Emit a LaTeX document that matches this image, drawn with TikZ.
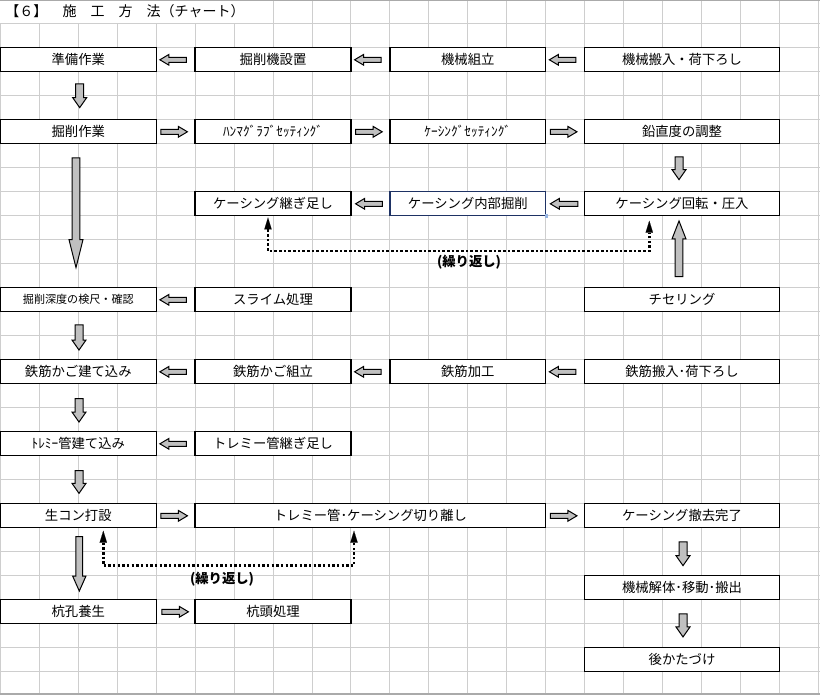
\documentclass[tikz,border=0pt]{standalone}
\usepackage{fontspec}
\setmainfont{Noto Sans CJK JP}
\usetikzlibrary{calc,arrows.meta}
\definecolor{gridc}{RGB}{206,206,206}
\definecolor{edgec}{RGB}{170,170,170}
\definecolor{arrowfill}{RGB}{192,192,192}
\definecolor{selblue}{RGB}{30,50,100}
\definecolor{handleblue}{RGB}{150,180,225}
\newcommand\barrow[5]{%
  \coordinate (ba-t) at #1;
  \coordinate (ba-p) at #2;
  \coordinate (ba-h) at ($(ba-p)!#5!(ba-t)$);
  \draw[blockarrow] ($(ba-t)!#3!90:(ba-p)$) -- ($(ba-h)!#3!90:(ba-p)$) -- ($(ba-h)!#4!90:(ba-p)$) -- (ba-p) -- ($(ba-h)!#4!-90:(ba-p)$) -- ($(ba-h)!#3!-90:(ba-p)$) -- ($(ba-t)!#3!-90:(ba-p)$) -- cycle;}
\newcommand\harrow[2]{\barrow{#1}{#2}{1.9pt}{4pt}{6.75pt}}
\newcommand\varrow[2]{\barrow{#1}{#2}{3pt}{5.25pt}{7.5pt}}
\tikzset{
  cell/.style={draw=black, line width=1pt, fill=white, minimum height=18pt, inner sep=0pt, anchor=center, font=\fontsize{10}{12}\selectfont},
  w4/.style={minimum width=116.85pt},
  w5/.style={minimum width=146.06pt},
  w9/.style={minimum width=262.9pt},
  gridline/.style={draw=gridc, line width=0.75pt},
  blockarrow/.style={fill=arrowfill, draw=black, line width=0.75pt, line join=miter},
  dotloop/.style={line width=1.9pt, dash pattern=on 1.9pt off 1.6pt,
    {Triangle[length=9pt,width=5.5pt,line width=0.1pt]}-{Triangle[length=9pt,width=5.5pt,line width=0.1pt]}},
  replabel/.style={font=\bfseries\fontsize{10}{12}\selectfont, inner sep=0pt},
}
\begin{document}
\begin{tikzpicture}[x=0.75pt,y=-0.75pt]
\useasboundingbox (0,0) rectangle (820,696);
\fill[white] (0,0) rectangle (820,696);
% grid
\foreach \k in {0,...,6} {\draw[gridline] ({0.4+38.95*\k},23.3) -- ({0.4+38.95*\k},693);}
\foreach \k in {7,...,21} {\draw[gridline] ({0.4+38.95*\k},0) -- ({0.4+38.95*\k},693);}
\foreach \j in {0,...,27} {\draw[gridline] (0,{23.3+24*\j}) -- (820,{23.3+24*\j});}
\draw[draw=edgec, line width=1.2pt] (0,0.6) -- (820,0.6);
\draw[draw=edgec, line width=1.5pt] (0,694) -- (820,694);
% title
\node[anchor=west, inner sep=0pt, font=\fontsize{10.5}{12}\selectfont] (title) at (5,11.5) {【６】\hspace{1.1em}施\hspace{1em}工\hspace{1em}方\hspace{1em}法（チャート）};
% boxes
\node[cell,w4] (n11) at (78.3,59.3) {準備作業};
\node[cell,w4] (n12) at (273.0,59.3) {掘削機設置};
\node[cell,w4] (n13) at (467.8,59.3) {機械組立};
\node[cell,w5] (n14) at (682.0,59.3) {機械搬入・荷下ろし};
\node[cell,w4] (n21) at (78.3,131.3) {掘削作業};
\node[cell,w4] (n22) at (273.0,131.3) {ﾊﾝﾏｸﾞﾗﾌﾞｾｯﾃｨﾝｸﾞ};
\node[cell,w4] (n23) at (467.8,131.3) {ｹｰｼﾝｸﾞｾｯﾃｨﾝｸﾞ};
\node[cell,w5] (n24) at (682.0,131.3) {鉛直度の調整};
\node[cell,w4] (n32) at (273.0,203.3) {ケーシング継ぎ足し};
\node[cell,w4,draw=selblue,line width=0.9pt] (n33) at (467.8,203.3) {ケーシング内部掘削};
\fill[handleblue] ($(n33.south east)+(-1.5,-1.5)$) rectangle ($(n33.south east)+(2,2)$);
\node[cell,w5] (n34) at (682.0,203.3) {ケーシング回転・圧入};
\node[cell,w4,font=\fontsize{8.3}{10}\selectfont] (n41) at (78.3,299.3) {掘削深度の検尺・確認};
\node[cell,w4] (n42) at (273.0,299.3) {スライム処理};
\node[cell,w5] (n44) at (682.0,299.3) {チセリング};
\node[cell,w4] (n51) at (78.3,371.3) {鉄筋かご建て込み};
\node[cell,w4] (n52) at (273.0,371.3) {鉄筋かご組立};
\node[cell,w4] (n53) at (467.8,371.3) {鉄筋加工};
\node[cell,w5] (n54) at (682.0,371.3) {鉄筋搬入･荷下ろし};
\node[cell,w4] (n61) at (78.3,443.3) {ﾄﾚﾐｰ管建て込み};
\node[cell,w4] (n62) at (273.0,443.3) {トレミー管継ぎ足し};
\node[cell,w4] (n71) at (78.3,515.3) {生コン打設};
\node[cell,w9] (n72) at (370.4,515.3) {トレミー管･ケーシング切り離し};
\node[cell,w5] (n74) at (682.0,515.3) {ケーシング撤去完了};
\node[cell,w5] (n84) at (682.0,587.3) {機械解体･移動･搬出};
\node[cell,w4] (n91) at (78.3,611.3) {杭孔養生};
\node[cell,w4] (n92) at (273.0,611.3) {杭頭処理};
\node[cell,w5] (n104) at (682.0,659.3) {後かたづけ};
% horizontal block arrows
\harrow{($(n12.west)+(-8,0.5)$)}{($(n11.east)+(3,0.5)$)}
\harrow{($(n13.west)+(-8,0.5)$)}{($(n12.east)+(3,0.5)$)}
\harrow{($(n14.west)+(-8,0.5)$)}{($(n13.east)+(3,0.5)$)}
\harrow{($(n21.east)+(4,0.5)$)}{($(n22.west)+(-7,0.5)$)}
\harrow{($(n22.east)+(4,0.5)$)}{($(n23.west)+(-7,0.5)$)}
\harrow{($(n23.east)+(4,0.5)$)}{($(n24.west)+(-7,0.5)$)}
\harrow{($(n33.west)+(-7,0.5)$)}{($(n32.east)+(4,0.5)$)}
\harrow{($(n34.west)+(-6,0.5)$)}{($(n33.east)+(4,0.5)$)}
\harrow{($(n42.west)+(-8,0.5)$)}{($(n41.east)+(3,0.5)$)}
\harrow{($(n52.west)+(-8,0.5)$)}{($(n51.east)+(3,0.5)$)}
\harrow{($(n53.west)+(-8,0.5)$)}{($(n52.east)+(3,0.5)$)}
\harrow{($(n54.west)+(-8,0.5)$)}{($(n53.east)+(3,0.5)$)}
\harrow{($(n62.west)+(-8,0.5)$)}{($(n61.east)+(3,0.5)$)}
\harrow{($(n71.east)+(4,0.5)$)}{($(n72.west)+(-7,0.5)$)}
\harrow{($(n72.east)+(4,0.5)$)}{($(n74.west)+(-7,0.5)$)}
\harrow{($(n91.east)+(5,0.5)$)}{($(n92.west)+(-6,0.5)$)}
% vertical block arrows
\varrow{($(n11.south)+(1.4,12)$)}{($(n21.north)+(1.4,-11)$)}
\varrow{($(n24.south)+(-3,13)$)}{($(n34.north)+(-3,-11)$)}
\varrow{($(n41.south)+(0.7,13)$)}{($(n51.north)+(0.7,-8.6)$)}
\varrow{($(n51.south)+(0.7,14.7)$)}{($(n61.north)+(0.7,-8.6)$)}
\varrow{($(n61.south)+(0.7,14.7)$)}{($(n71.north)+(0.7,-9.3)$)}
\varrow{($(n74.south)+(1,14)$)}{($(n84.north)+(1,-9)$)}
\varrow{($(n84.south)+(1,14)$)}{($(n104.north)+(1,-9.7)$)}
\barrow{($(n21.south)+(-2.3,14)$)}{($(n41.north)+(-2.3,-19)$)}{2.9pt}{5.25pt}{21pt}
\barrow{($(n44.north)+(-3,-10)$)}{($(n34.south)+(-3,5)$)}{2.9pt}{5.25pt}{13.5pt}
\barrow{($(n71.south)+(1,8.7)$)}{($(n91.north)+(1,-7.6)$)}{2.5pt}{5pt}{11.25pt}
% dotted repeat loops
\coordinate (d1a) at ($(n32.south)+(-5,1.5)$);
\coordinate (d1b) at ($(n34.south)+(-32.7,4.7)$);
\coordinate (d1y) at ($(n32.south)+(0,35)$);
\draw[dotloop] (d1a) -- (d1a |- d1y) -- (d1b |- d1y) -- (d1b);
\node[replabel] (rep1) at (469,262) {(繰り返し)};
\coordinate (d2a) at ($(n71.south)+(25,2.7)$);
\coordinate (d2b) at ($(n72.south)+(-16.4,2.7)$);
\coordinate (d2y) at ($(n71.south)+(0,37.7)$);
\draw[dotloop] (d2a) -- (d2a |- d2y) -- (d2b |- d2y) -- (d2b);
\node[replabel] (rep2) at (222,579) {(繰り返し)};
\end{tikzpicture}
\end{document}
